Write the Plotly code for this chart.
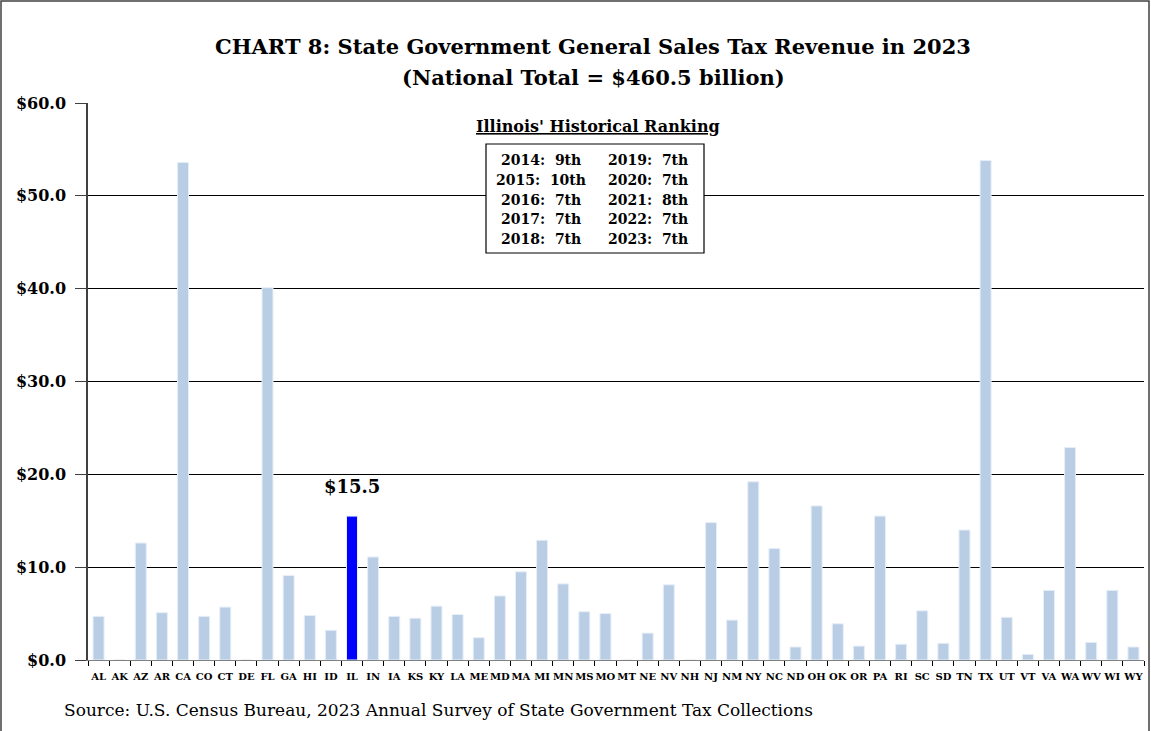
import plotly.graph_objects as go

states = ["AL","AK","AZ","AR","CA","CO","CT","DE","FL","GA","HI","ID","IL","IN","IA","KS","KY","LA","ME","MD",
          "MA","MI","MN","MS","MO","MT","NE","NV","NH","NJ","NM","NY","NC","ND","OH","OK","OR","PA","RI","SC",
          "SD","TN","TX","UT","VT","VA","WA","WV","WI","WY"]
revenue = [4.7, 0, 12.6, 5.1, 53.6, 4.7, 5.7, 0, 40.1, 9.1, 4.8, 3.2, 15.5, 11.1, 4.7, 4.5, 5.8, 4.9, 2.4, 6.9,
           9.5, 12.9, 8.2, 5.2, 5.0, 0, 2.9, 8.1, 0, 14.8, 4.3, 19.2, 12.0, 1.4, 16.6, 3.9, 1.5, 15.5, 1.7, 5.3,
           1.8, 14.0, 53.8, 4.6, 0.6, 7.5, 22.9, 1.9, 7.5, 1.4]
highlight = "IL"
rank_left = ["2014:  9th", "2015:  10th", "2016:  7th", "2017:  7th", "2018:  7th"]
rank_right = ["2019:  7th", "2020:  7th", "2021:  8th", "2022:  7th", "2023:  7th"]
yticks = [0, 10, 20, 30, 40, 50, 60]
ytick_text = ["$0.0", "$10.0", "$20.0", "$30.0", "$40.0", "$50.0", "$60.0"]
title_lines = ["CHART 8: State Government General Sales Tax Revenue in 2023", "(National Total = $460.5 billion)"]

SERIF = "DejaVu Serif"
colors = ["#0000FF" if s == highlight else "#B9CDE5" for s in states]

fig = go.Figure()
fig.add_trace(go.Bar(
    x=states, y=revenue, marker=dict(color=colors, line=dict(color="#E6EEF7", width=1)),
    hoverinfo="x+y", showlegend=False,
))

W, H = 1151, 731
L, R, T, B = 88, 7, 103, 71
pw, ph = W - L - R, H - T - B

def px(p):
    return (p - L) / pw

def py(p):
    return (H - B - p) / ph

fig.update_layout(
    width=W, height=H,
    margin=dict(l=L, r=R, t=T, b=B),
    paper_bgcolor="white", plot_bgcolor="white",
    bargap=0.48,
    xaxis=dict(
        type="category", tickson="boundaries", ticks="outside", ticklen=5, tickcolor="black",
        showline=True, linecolor="#808080", linewidth=1, showgrid=False,
        tickfont=dict(family=SERIF, size=10, color="black", weight="bold"),
        tickangle=0, ticklabelstandoff=7,
    ),
    yaxis=dict(
        range=[0, 60], tickvals=yticks, ticktext=ytick_text,
        ticks="outside", ticklen=11, tickcolor="#404040",
        showline=True, linecolor="#404040", linewidth=1.5,
        showgrid=True, gridcolor="black", gridwidth=1, zeroline=False,
        tickfont=dict(family=SERIF, size=16, color="black", weight="bold"),
        ticklabelstandoff=6,
    ),
)

def note(x, y, text, size, bold=True, xanchor="center"):
    fig.add_annotation(xref="paper", yref="paper", x=px(x), y=py(y), text=text, showarrow=False,
                       xanchor=xanchor, yanchor="middle",
                       font=dict(family=SERIF, size=size, color="black", weight="bold" if bold else "normal"))

# title
note(593, 47, title_lines[0], 21)
note(593, 78, title_lines[1], 21)

# value label for Illinois
hi_idx = states.index(highlight)
fig.add_annotation(
    x=highlight, y=revenue[hi_idx], text="$" + f"{revenue[hi_idx]:.1f}", showarrow=False,
    yanchor="bottom", yshift=17, font=dict(family=SERIF, size=18, color="black", weight="bold"),
)

# ranking box
fig.add_shape(type="rect", xref="paper", yref="paper", x0=px(486), x1=px(704), y0=py(253), y1=py(144),
              line=dict(color="black", width=1.2), fillcolor="white", layer="above")
note(598, 127, "<u>Illinois' Historical Ranking</u>", 16)
for i, (a, b) in enumerate(zip(rank_left, rank_right)):
    yy = 160 + i * 19.8
    note(541, yy, a, 14)
    note(648, yy, b, 14)

# source
note(62, 710, "Source: U.S. Census Bureau, 2023 Annual Survey of State Government Tax Collections", 17,
     bold=False, xanchor="left")

# outer border
fig.add_shape(type="rect", xref="paper", yref="paper", x0=px(1), x1=px(1149), y0=py(732), y1=py(1),
              line=dict(color="#404040", width=1.5), fillcolor="rgba(0,0,0,0)", layer="above")

fig.write_html("out.html", config={"displayModeBar": False},
               post_script="document.body.style.margin='0';")
